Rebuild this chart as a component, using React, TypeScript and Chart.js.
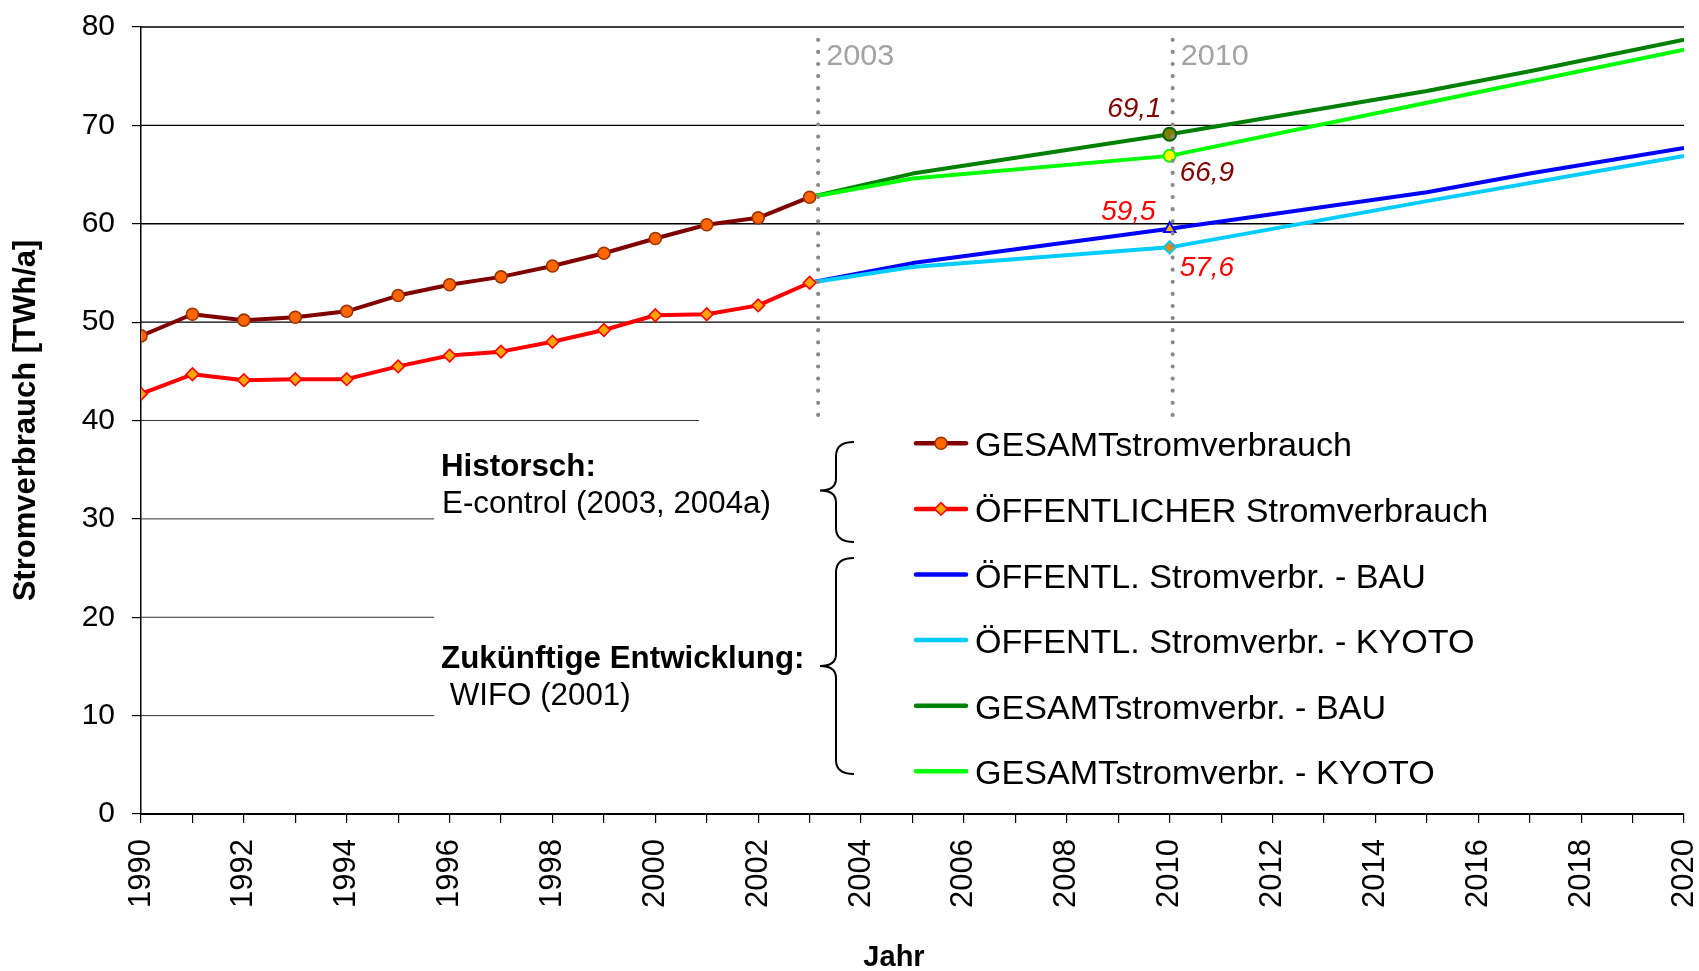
import React, { useEffect, useRef } from 'react';
import { Chart, registerables } from 'chart.js';

Chart.register(...registerables);

const FONT = "'Liberation Sans', Arial, Helvetica, sans-serif";

// ---------- DATA ----------
const HIST_YEARS = [1990, 1991, 1992, 1993, 1994, 1995, 1996, 1997, 1998, 1999, 2000, 2001, 2002, 2003];
const GESAMT_HIST = [48.6, 50.8, 50.2, 50.5, 51.1, 52.7, 53.8, 54.6, 55.7, 57.0, 58.5, 59.9, 60.6, 62.7];
const OEFF_HIST = [42.7, 44.7, 44.1, 44.2, 44.2, 45.5, 46.6, 47.0, 48.0, 49.2, 50.7, 50.8, 51.7, 54.0];

const GESAMT_BAU_YEARS = [2003, 2005, 2010, 2015, 2017, 2020];
const GESAMT_BAU = [62.7, 65.1, 69.1, 73.5, 75.5, 78.7];
const GESAMT_KYOTO_YEARS = [2003, 2005, 2010, 2015, 2020];
const GESAMT_KYOTO = [62.7, 64.6, 66.9, 72.3, 77.7];
const OEFF_BAU_YEARS = [2003, 2005, 2010, 2015, 2017, 2020];
const OEFF_BAU = [54.0, 56.0, 59.5, 63.2, 65.1, 67.7];
const OEFF_KYOTO_YEARS = [2003, 2005, 2010, 2015, 2020];
const OEFF_KYOTO = [54.0, 55.6, 57.6, 62.3, 66.9];

const SERIES_LABELS = [
  'GESAMTstromverbrauch',
  'ÖFFENTLICHER Stromverbrauch',
  'ÖFFENTL. Stromverbr. - BAU',
  'ÖFFENTL. Stromverbr. - KYOTO',
  'GESAMTstromverbr. - BAU',
  'GESAMTstromverbr. - KYOTO',
];

const MARK_YEAR = 2010;
const MILESTONE_YEARS = [2003, 2010];
const Y_TICK_VALUES = [0, 10, 20, 30, 40, 50, 60, 70, 80];
const FULL_GRID_VALUES = [50, 60, 70, 80];
const PARTIAL_GRID_VALUES = [10, 20, 30, 40];

const NOTE_HIST_TITLE = 'Historsch:';
const NOTE_HIST_SRC = 'E-control (2003, 2004a)';
const NOTE_FUT_TITLE = 'Zukünftige Entwicklung:';
const NOTE_FUT_SRC = ' WIFO (2001)';
const Y_TITLE = 'Stromverbrauch [TWh/a]';
const X_TITLE = 'Jahr';

// ---------- helpers ----------
const pts = (years: number[], vals: number[]) => years.map((x, i) => ({ x, y: vals[i] }));
const fmt = (v: number) => v.toFixed(1).replace('.', ',');

const C = {
  brown: '#800000',
  red: '#ff0000',
  blue: '#0000ff',
  lightBlue: '#00ccff',
  darkGreen: '#008000',
  lightGreen: '#00ff00',
};

function markAt(r: number) {
  return (ctx: any) => (ctx.raw && ctx.raw.x === MARK_YEAR ? r : 0);
}

function drawMarker(ctx: CanvasRenderingContext2D, style: string, x: number, y: number, r: number, fill: string, stroke: string, bw: number) {
  ctx.beginPath();
  if (style === 'circle') {
    ctx.arc(x, y, r, 0, Math.PI * 2);
  } else if (style === 'rectRot') {
    ctx.moveTo(x, y - r);
    ctx.lineTo(x + r, y);
    ctx.lineTo(x, y + r);
    ctx.lineTo(x - r, y);
    ctx.closePath();
  }
  ctx.fillStyle = fill;
  ctx.fill();
  ctx.lineWidth = bw;
  ctx.strokeStyle = stroke;
  ctx.stroke();
}

function drawBrace(ctx: CanvasRenderingContext2D, xEnd: number, xStem: number, xTip: number, yTop: number, yMid: number, yBot: number) {
  const k = 14;
  ctx.beginPath();
  ctx.moveTo(xEnd, yTop);
  ctx.quadraticCurveTo(xStem, yTop, xStem, yTop + k);
  ctx.lineTo(xStem, yMid - 12);
  ctx.quadraticCurveTo(xStem, yMid, xTip, yMid);
  ctx.quadraticCurveTo(xStem, yMid, xStem, yMid + 12);
  ctx.lineTo(xStem, yBot - k);
  ctx.quadraticCurveTo(xStem, yBot, xEnd, yBot);
  ctx.stroke();
}

// text drawn with a slight horizontal stretch, as in the reference rendering
function wideText(ctx: CanvasRenderingContext2D, text: string, x: number, y: number, sx: number) {
  ctx.save();
  ctx.translate(x, y);
  ctx.scale(sx, 1);
  ctx.fillText(text, 0, 0);
  ctx.restore();
}

const overlayPlugin = {
  id: 'overlay',
  beforeDatasetsDraw(chart: any) {
    const { ctx, chartArea: a, scales } = chart;
    const xs = scales.x;
    const ys = scales.y;
    ctx.save();
    ctx.strokeStyle = '#000';
    ctx.lineWidth = 1.3;
    for (const v of FULL_GRID_VALUES) {
      const py = ys.getPixelForValue(v);
      ctx.beginPath();
      ctx.moveTo(a.left, py);
      ctx.lineTo(a.right, py);
      ctx.stroke();
    }
    // partial lines (cut by the note box and the legend box)
    ctx.strokeStyle = '#333';
    ctx.lineWidth = 1;
    for (const v of PARTIAL_GRID_VALUES) {
      const endYear = v === 40 ? 2000.85 : 1995.7;
      const py = ys.getPixelForValue(v);
      ctx.beginPath();
      ctx.moveTo(a.left, py);
      ctx.lineTo(xs.getPixelForValue(endYear), py);
      ctx.stroke();
    }
    ctx.restore();
  },
  afterDatasetsDraw(chart: any) {
    const { ctx, chartArea: a, scales } = chart;
    const xs = scales.x;
    const ys = scales.y;
    ctx.save();

    // dotted milestone lines
    const offsets = [8.5, 3];
    MILESTONE_YEARS.forEach((yr, i) => {
      const px = xs.getPixelForValue(yr) + offsets[i];
      ctx.save();
      ctx.strokeStyle = '#8a8a8a';
      ctx.lineWidth = 4.2;
      ctx.lineCap = 'round';
      ctx.setLineDash([0, 12.1]);
      ctx.beginPath();
      ctx.moveTo(px, ys.getPixelForValue(78.7));
      ctx.lineTo(px, ys.getPixelForValue(40.3));
      ctx.stroke();
      ctx.restore();
      ctx.fillStyle = '#a3a3a3';
      ctx.font = `30px ${FONT}`;
      ctx.textAlign = 'left';
      ctx.textBaseline = 'alphabetic';
      wideText(ctx, String(yr), px + 8, a.top + 37.5, 1.02);
    });

    // data labels at 2010
    const labelSpec = [
      { ds: 5, color: C.brown, dx: -8, dy: -17.5, align: 'right' },
      { ds: 3, color: C.brown, dx: 10, dy: 25.5, align: 'left' },
      { ds: 4, color: C.red, dx: -14, dy: -9, align: 'right' },
      { ds: 2, color: C.red, dx: 10, dy: 29, align: 'left' },
    ];
    ctx.font = `italic 28px ${FONT}`;
    ctx.textBaseline = 'alphabetic';
    for (const s of labelSpec) {
      const d = chart.data.datasets[s.ds].data.find((p: any) => p.x === MARK_YEAR);
      const px = xs.getPixelForValue(d.x);
      const py = ys.getPixelForValue(d.y);
      ctx.fillStyle = s.color;
      ctx.textAlign = s.align;
      ctx.fillText(fmt(d.y), px + s.dx, py + s.dy);
    }

    // notes
    ctx.fillStyle = '#000';
    ctx.textAlign = 'left';
    ctx.font = `bold 31px ${FONT}`;
    wideText(ctx, NOTE_HIST_TITLE, 441, 476, 1.01);
    wideText(ctx, NOTE_FUT_TITLE, 441, 668, 1.01);
    ctx.font = `31px ${FONT}`;
    wideText(ctx, NOTE_HIST_SRC, 442, 513, 1.01);
    wideText(ctx, NOTE_FUT_SRC, 441, 705, 1.01);

    // braces
    ctx.strokeStyle = '#000';
    ctx.lineWidth = 2;
    drawBrace(ctx, 854, 836, 820, 442, 490.5, 542);
    drawBrace(ctx, 854, 836, 820, 558, 666, 774);

    // legend
    const order = [0, 1, 4, 2, 5, 3];
    const y0 = 443.3;
    const dy = 65.6;
    order.forEach((di, i) => {
      const ds = chart.data.datasets[di];
      const ly = y0 + i * dy;
      ctx.save();
      ctx.strokeStyle = ds.borderColor;
      ctx.lineWidth = 4.5;
      ctx.lineCap = 'round';
      ctx.beginPath();
      ctx.moveTo(916, ly);
      ctx.lineTo(966, ly);
      ctx.stroke();
      if (di === 0) drawMarker(ctx, 'circle', 941, ly, 6, '#ff6600', '#993300', 1.6);
      if (di === 1) drawMarker(ctx, 'rectRot', 941, ly, 6.3, '#ffa500', '#ff0000', 1.6);
      ctx.restore();
      ctx.fillStyle = '#000';
      ctx.font = `33px ${FONT}`;
      ctx.textAlign = 'left';
      ctx.textBaseline = 'alphabetic';
      wideText(ctx, ds.label, 975, ly + 13, 1.033);
    });

    // axis titles
    ctx.font = `bold 31px ${FONT}`;
    ctx.fillStyle = '#000';
    ctx.textAlign = 'center';
    ctx.textBaseline = 'alphabetic';
    ctx.save();
    ctx.translate(35, (a.top + a.bottom) / 2);
    ctx.rotate(-Math.PI / 2);
    ctx.fillText(Y_TITLE, 0, 0);
    ctx.restore();
    ctx.font = `bold 29px ${FONT}`;
    ctx.fillText(X_TITLE, 894, 966);

    ctx.restore();
  },
};

export default function App() {
  const ref = useRef<HTMLCanvasElement>(null);

  useEffect(() => {
    document.body.style.margin = '0';
    Chart.defaults.font.family = FONT;
    const datasets: any[] = [
      {
        label: SERIES_LABELS[0],
        data: pts(HIST_YEARS, GESAMT_HIST),
        borderColor: C.brown,
        borderWidth: 4,
        pointStyle: 'circle',
        pointRadius: 6,
        pointBorderWidth: 1.6,
        pointBackgroundColor: '#ff6600',
        pointBorderColor: '#993300',
      },
      {
        label: SERIES_LABELS[1],
        data: pts(HIST_YEARS, OEFF_HIST),
        borderColor: C.red,
        borderWidth: 4,
        pointStyle: 'rectRot',
        pointRadius: 6.3,
        pointBorderWidth: 1.6,
        pointBackgroundColor: '#ffa500',
        pointBorderColor: '#ff0000',
      },
      {
        label: SERIES_LABELS[3],
        data: pts(OEFF_KYOTO_YEARS, OEFF_KYOTO),
        borderColor: C.lightBlue,
        borderWidth: 4,
        pointStyle: 'rectRot',
        pointRadius: markAt(6.3),
        pointBorderWidth: 2,
        pointBackgroundColor: '#e08a10',
        pointBorderColor: C.lightBlue,
      },
      {
        label: SERIES_LABELS[5],
        data: pts(GESAMT_KYOTO_YEARS, GESAMT_KYOTO),
        borderColor: C.lightGreen,
        borderWidth: 4,
        pointStyle: 'circle',
        pointRadius: markAt(6),
        pointBorderWidth: 2,
        pointBackgroundColor: '#ffff00',
        pointBorderColor: C.lightGreen,
      },
      {
        label: SERIES_LABELS[2],
        data: pts(OEFF_BAU_YEARS, OEFF_BAU),
        borderColor: C.blue,
        borderWidth: 4,
        pointStyle: 'triangle',
        pointRadius: markAt(6.5),
        pointBorderWidth: 2,
        pointBackgroundColor: '#ffb000',
        pointBorderColor: C.blue,
      },
      {
        label: SERIES_LABELS[4],
        data: pts(GESAMT_BAU_YEARS, GESAMT_BAU),
        borderColor: C.darkGreen,
        borderWidth: 4,
        pointStyle: 'circle',
        pointRadius: markAt(6.5),
        pointBorderWidth: 2,
        pointBackgroundColor: '#808000',
        pointBorderColor: '#006400',
      },
    ];
    datasets.forEach((d) => {
      d.fill = false;
      d.tension = 0;
      d.borderJoinStyle = 'round';
      d.pointHoverRadius = d.pointRadius;
    });

    const chart = new Chart(ref.current as HTMLCanvasElement, {
      type: 'line',
      data: { datasets },
      options: {
        responsive: false,
        devicePixelRatio: 1,
        animation: false,
        events: [],
        layout: { padding: { left: 0, right: 15, top: 27, bottom: 0 } },
        plugins: {
          legend: { display: false },
          tooltip: { enabled: false },
          title: { display: false },
        },
        scales: {
          x: {
            type: 'linear',
            min: 1990,
            max: 2020,
            border: { display: true, color: '#000', width: 2 },
            grid: { drawOnChartArea: false, drawTicks: true, tickLength: 9, color: '#000', lineWidth: 1.2 },
            ticks: {
              stepSize: 1,
              autoSkip: false,
              minRotation: 90,
              maxRotation: 90,
              padding: 16,
              color: '#000',
              font: { size: 31, family: FONT },
              callback: (v: any) => (Number(v) % 2 === 0 ? String(v) : ''),
            },
            afterFit: (s: any) => {
              s.height = 157;
              s.paddingLeft = 0;
              s.paddingRight = 0;
            },
          },
          y: {
            type: 'linear',
            min: 0,
            max: 80,
            border: { display: true, color: '#000', width: 1.5 },
            grid: { drawOnChartArea: false, drawTicks: true, tickLength: 9, color: '#000', lineWidth: 1.2 },
            afterBuildTicks: (s: any) => {
              s.ticks = Y_TICK_VALUES.map((value) => ({ value }));
            },
            ticks: {
              padding: 17,
              color: '#000',
              font: { size: 30, family: FONT },
            },
            afterFit: (s: any) => {
              s.width = 141;
              s.paddingTop = 0;
              s.paddingBottom = 0;
            },
          },
        },
      },
      plugins: [overlayPlugin],
    } as any);

    return () => chart.destroy();
  }, []);

  return (
    <div style={{ width: 1699, height: 971 }}>
      <canvas ref={ref} width={1699} height={971} style={{ display: 'block' }} />
    </div>
  );
}
